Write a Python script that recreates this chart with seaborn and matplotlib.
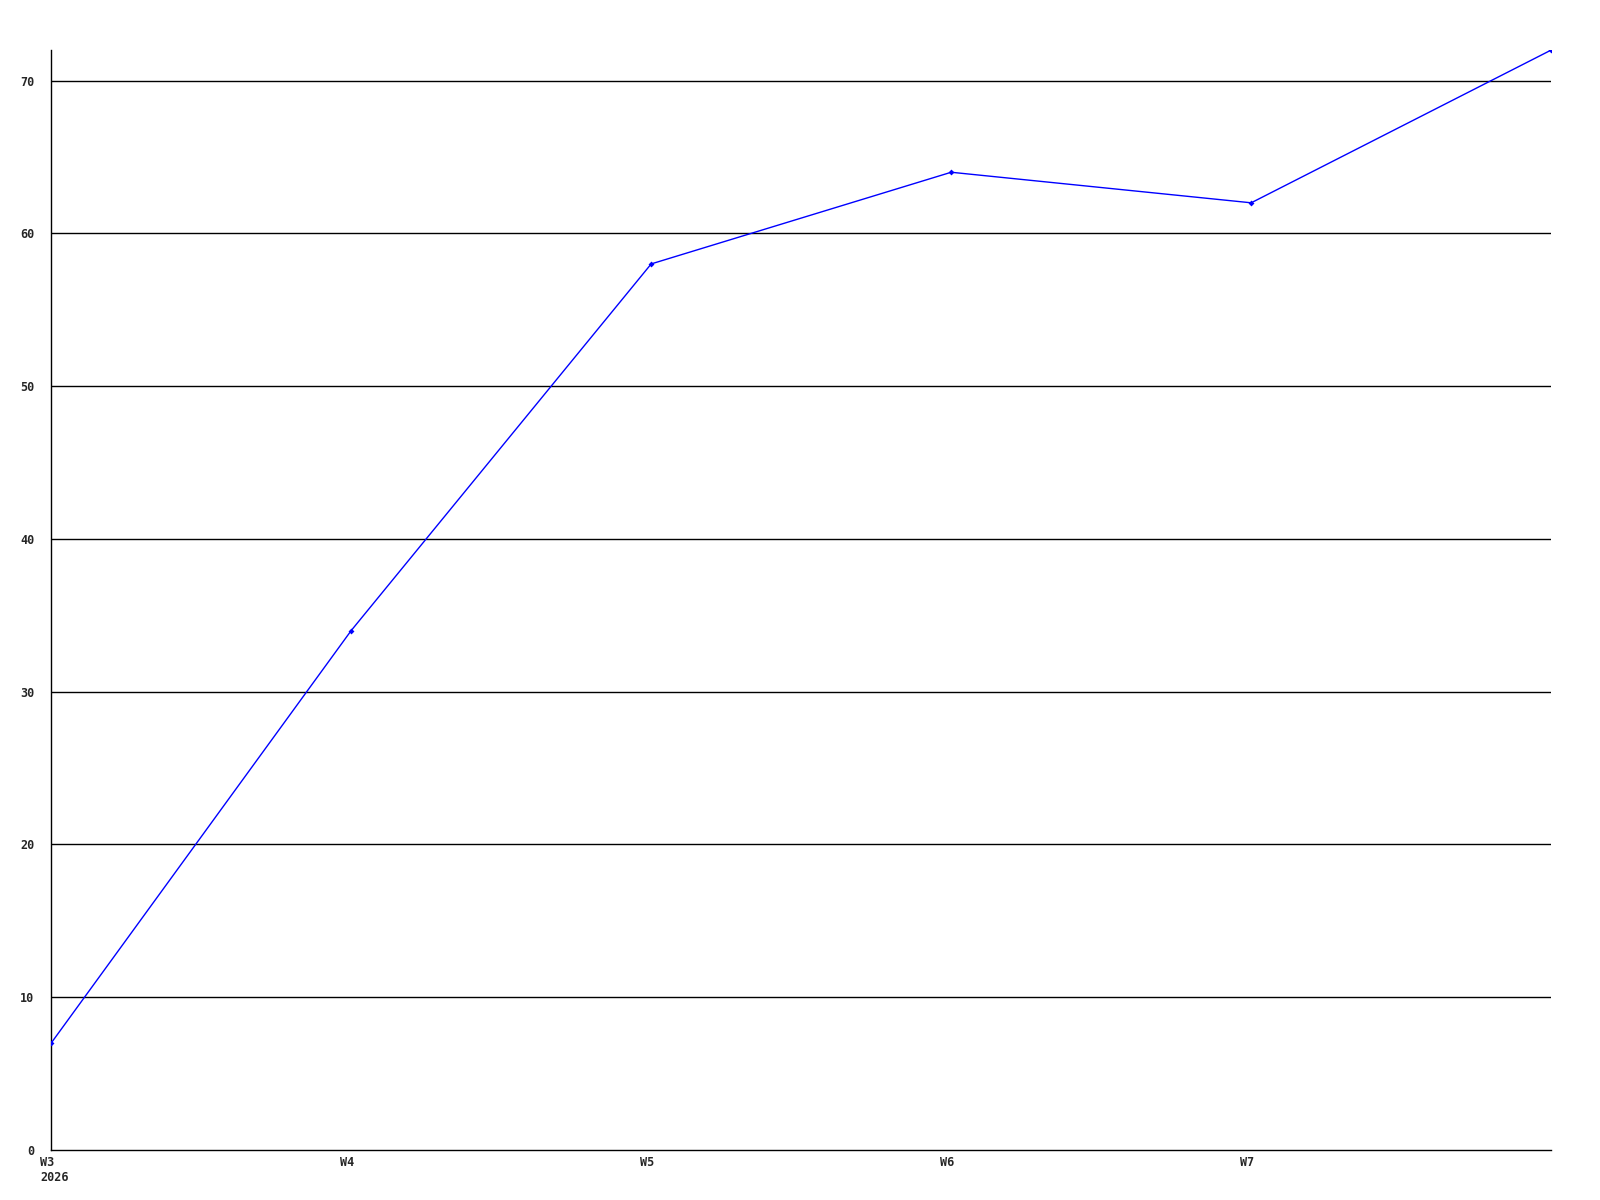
import matplotlib
matplotlib.use("Agg")
import matplotlib.pyplot as plt
import matplotlib.transforms as mtransforms
import seaborn as sns
import pandas as pd

weeks = ["W3", "W4", "W5", "W6", "W7", "W8"]
values = [7, 34, 58, 64, 62, 72]
tick_labels = ["W3\n2026", "W4", "W5", "W6", "W7"]
y_ticks = [0, 10, 20, 30, 40, 50, 60, 70]

df = pd.DataFrame({"pos": range(len(weeks)), "week": weeks, "value": values})

sns.set_style("white")
plt.rcParams["font.family"] = ["DejaVu Sans Mono"]

fig = plt.figure(figsize=(16, 12), dpi=100)
ax = fig.add_axes([0.032, 0.0417, 0.9375, 0.9166])

# horizontal guide lines (none at zero)
for y in y_ticks[1:]:
    ax.axhline(y, color="black", linewidth=1.0, zorder=1)

sns.lineplot(data=df, x="pos", y="value", ax=ax, color="#0000ff",
             linewidth=1, marker="D", markersize=3, markeredgewidth=0, zorder=3)

ax.set_xlim(0, len(weeks) - 1)
ax.set_ylim(0, 72)
ax.set_xticks(range(len(tick_labels)))
ax.set_xticklabels(tick_labels, ha="left", va="top", fontweight="bold",
                   fontsize=8.5, linespacing=1.25)
ax.set_yticks(y_ticks)
ax.set_yticklabels([str(t) for t in y_ticks], fontweight="bold", fontsize=8.5)
ax.tick_params(axis="x", length=0, pad=4)
ax.tick_params(axis="y", length=0, pad=12)
shift = mtransforms.ScaledTranslation(-11 / 100, 0, fig.dpi_scale_trans)
for lbl in ax.get_xticklabels():
    lbl.set_transform(lbl.get_transform() + shift)
ax.set_xlabel("")
ax.set_ylabel("")
for side in ["top", "right"]:
    ax.spines[side].set_visible(False)
for side in ["left", "bottom"]:
    ax.spines[side].set_color("black")
    ax.spines[side].set_linewidth(1.0)

fig.savefig("out.png", dpi=100, facecolor="white")
